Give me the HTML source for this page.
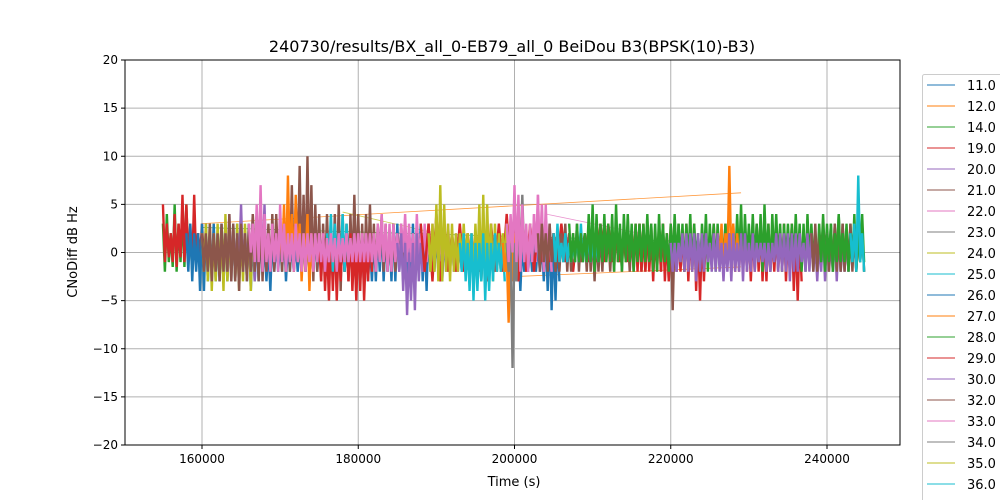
<!DOCTYPE html>
<html><head><meta charset="utf-8"><style>
body{margin:0;background:#fff;font-family:"DejaVu Sans","Liberation Sans",sans-serif}
svg{display:block}
</style></head><body>
<svg id="chart" width="1000" height="500">
<text x="512" y="52" text-anchor="middle" font-size="16">240730/results/BX_all_0-EB79_all_0 BeiDou B3(BPSK(10)-B3)</text>
<g id="grid"></g><g id="series"></g>
<rect x="125" y="60" width="775" height="385" fill="none" stroke="#000" stroke-width="1"/>
<g id="axes"></g>
<text x="514" y="486" text-anchor="middle" font-size="13">Time (s)</text>
<text transform="translate(77,252) rotate(-90)" text-anchor="middle" font-size="13">CNoDiff dB Hz</text>
<g id="legend"></g>
</svg>
<script>
const xTicks=[160000,180000,200000,220000,240000];
const yTicks=[-20,-15,-10,-5,0,5,10,15,20];
const legendLabels=["11.0","12.0","14.0","19.0","20.0","21.0","22.0","23.0","24.0","25.0","26.0","27.0","28.0","29.0","30.0","32.0","33.0","34.0","35.0","36.0","37.0"];
const palette=["#1f77b4","#ff7f0e","#2ca02c","#d62728","#9467bd","#8c564b","#e377c2","#7f7f7f","#bcbd22","#17becf"];
const gapLines=[
 {c:1,t:[160000,229000],v:[3,6.2]},
 {c:2,t:[160000,220000],v:[2.6,1.2]},
 {c:8,t:[178000,190000],v:[4.2,2.0]},
 {c:6,t:[204000,216000],v:[4,2]},
 {c:1,t:[200000,229000],v:[-2.5,-1.5]}
];
// noisy traces: start time, step (s), alternating low / high extremes per step
const segs=[
 {c:2,t0:155000,step:500,lo:[-2,-1,-1.5,-2,-1,-1.5,-1,-2,-1,-1.5],hi:[3,4,2,5,3,4,5,2,3,2]},
 {c:3,t0:155000,step:500,lo:[-1,-0.5,-1,-1.5,-0.5,-1,-1,-1.5,-1,-0.5,-1],hi:[5,3,2,4,3,6,5,3,6,2,3]},
 {c:0,t0:158000,step:500,lo:[-2,-3,-2,-4,-4,-3,-2,-3,-3,-2,-3,-2,-3,-3,-2,-3,-4,-3,-3,-2,-3,-4,-2,-2,-2,-3,-2,-2,-2,-2,-2,-2,-2,-2,-2,-3,-2,-2,-2,-2,-2,-2,-3,-2,-3,-4,-3,-3,-3,-2,-3,-2,-3,-3,-2,-3,-4,-3,-3,-2,-3,-4,-2,-2,-2,-3,-2,-2,-2,-2,-2,-2,-2,-2,-2,-3,-2,-2,-2,-2,-2,-2,-3,-2,-3,-4,-2,-2,-2,-2,-2,-3,-4,-6,-5,-3],hi:[2,3,2,2,3,3,2,3,2,3,2,3,2,3,2,2,3,2,2,2,1,1,2,1,1,2,1,1,1,1,1,1,1,2,1,2,1,1,1,1,1,1,1,2,3,2,2,1,2,2,3,2,2,3,3,2,3,2,3,2,3,2,3,2,2,3,2,2,2,1,1,2,1,1,2,1,1,1,1,1,1,1,2,1,2,1,1,1,1,1,1,1,2,3,2,2]},
 {c:8,t0:160000,step:500,lo:[-2,-3,-4,-3,-2,-4,-3,-2,-3,-4,-3,-2,-4,-3],hi:[2,3,3,2,3,2,4,2,3,3,2,3,2,4]},
 {c:4,t0:163000,step:500,lo:[-2,-3,-2,-1,-2,-1,-2,-3,-2,-1,-2,-1],hi:[2,4,3,2,5,2,2,4,3,2,5,2]},
 {c:5,t0:160000,step:500,lo:[-2,-2,-3,-2,-3,-2,-2,-3,-3,-4,-2,-3,-2,-2,-3,-3,-2,-2,-2,-1,-2,-2,-2,-2,-1,-2,-2,-2,-3,-2,-3,-2,-2,-3,-3,-4,-2,-3,-2,-2,-3,-3,-2,-2,-2,-1,-2,-2,-2,-2,-1,-2],hi:[2,2,3,2,2,3,2,4,3,2,3,2,3,4,3,4,3,3,4,4,3,4,5,7,5,9,6,10,7,5,4,3,4,3,4,5,4,3,4,6,4,3,4,5,3,3,4,3,2,3,2,3]},
 {c:3,t0:175000,step:500,lo:[-3,-4,-5,-4,-5,-3,-2,-3,-4,-5,-4,-5,-3,-2],hi:[1,2,1,2,2,1,2,1,2,1,2,2,1,2]},
 {c:9,t0:176000,step:500,lo:[-1,-2,-1,-1,-2,-1],hi:[2,4,3,2,4,3]},
 {c:1,t0:170000,step:500,lo:[-1,-2,-1,-2,-1,-3,-1,-4,-2],hi:[3,5,8,4,6,3,2,4,2]},
 {c:6,t0:166000,step:500,lo:[0,-1,-1,-2,-1,-2,-1,-2,-1,-2,-1,-2,-1,-2,-2,-1,-2,-1,-1,-2,-1,-1,-2,-1,-1,-1,-1,-1,-1,-1,-1,-1,-2,-1,-1,-2,-2,-1,-2,0,-1,-1,-2,-1,-2,-1,-2,-1,-2,-1,-2,-1,-2,-2,-1,-2,-1,-1,-2,-1,-1,-2,-1,-1,-1,-1,-1,-1,-1,-1,-1,-2,-1,-1,-2,-2,-1,-2],hi:[3,3,5,7,4,2,3,2,5,3,2,2,3,2,2,2,2,2,2,2,1.5,2,1.5,2,1.5,2,1.5,2,2,2,2,2,2,3,4,3,3,3,2,3,4,3,2,4,2,3,2,3,3,2,2,3,2,2,2,2,2,2,2,1.5,2,1.5,2,1.5,2,1.5,2,2,2,2,2,2,3,4,6,5,3,2]},
 {c:4,t0:185000,step:500,lo:[-2,-4,-6.5,-5,-6,-3,-2],hi:[1,2,1,0,1,2,1]},
 {c:3,t0:188000,step:1000,lo:[-2,-3,-3,-2,-2,-2,-2,-2,-3,-2,-2,-2,-3,-2,-2,-1,-1,-1,-1,-2,-1,-1,-1,-1,-1,-1,-1],hi:[3,3,4,3,2,3,2,2,3,3,3,4,4,4,3,3,2,2,3,2,2,2,2,3,3,2,2]},
 {c:8,t0:189000,step:500,lo:[-2,-2,-3,-3,-2,-3,-2,-2,-1,-1,-1,-2,-2,-3,-3,-2,-3,-2,-2,-1,-1,-1],hi:[2,3,5,7,5,3,3,2,2,3,2,2,3,5,6,5,3,3,2,2,3,2]},
 {c:9,t0:193000,step:500,lo:[-2,-3,-4,-5,-4,-3,-5,-4,-3,-2,-2,-3],hi:[1,2,1,2,1,1,2,1,1,2,1,1]},
 {c:1,t0:198500,step:500,lo:[-2,-7.3,-3,-2],hi:[1,0,1,2]},
 {c:7,t0:199000,step:500,lo:[-2,-12,-3,-1,-1],hi:[1,1,1,5,6]},
 {c:6,t0:199000,step:500,lo:[-1,0,-1,-2,-1,-2,-1,0,-1,-2,-1,-2],hi:[3,4,7,6,5,3,3,4,6,5,5,3]},
 {c:5,t0:203000,step:500,lo:[-2,-1,-2,-1,-2,-2,-1,-2,-2,-1,-2,-1,-2,-2,-3,-2,-2,-1,-2,-2,-1,-2,-1,-2,-2,-1,-2,-2,-1,-2,-1,-2,-2,-3,-6,-2,-1,-2],hi:[2,3,2,3,2,2,2,3,2,2,3,2,2,3,2,2,2,3,2,2,3,2,3,2,2,2,3,2,2,3,2,2,3,2,2,2,3,2]},
 {c:9,t0:205000,step:500,lo:[-1,-1,-1,-1,-1,-1,-1,-1,-1,-1,-1,-1],hi:[2,3,1,2,1,1,2,3,1,2,1,1]},
 {c:3,t0:212000,step:500,lo:[-1,-1,-1,-1,-1,-1,-1,-2,-2,-2,-2,-3,-2,-2,-3,-3,-2,-2,-2,-2,-3,-2,-4,-5,-3,-1,-1,-1,-1,-1,-1,-1,-2,-2,-2,-2,-3,-2,-2,-3,-3,-2,-2,-2,-2,-3,-2,-4,-5,-3],hi:[2,2,3,2,2,3,2,3,3,3,3,2,2,3,3,2,3,2,2,2,3,2,3,2,2,2,2,3,2,2,3,2,3,3,3,3,2,2,3,3,2,3,2,2,2,3,2,3,2,2]},
 {c:2,t0:207000,step:500,lo:[-1,-1,-1,-1,-1,-1,-2,-1,-1,-1,-1,-2,-1,-2,-1,-1,-2,-1,-1,-1,-1,-2,-2,-1,-1,-2,-1,-1,-1,-2,-1,-2,-1,-2,-1,-2,-1,-2,-1,-1,-1,-1,-1,-1,-2,-1,-1,-1,-1,-2,-1,-2,-1,-1,-2,-1,-1,-1,-1,-2,-2,-1,-1,-2,-1,-1,-1,-2,-1,-2,-1,-2,-1,-2,-1,-2],hi:[3,2,3,2,2,4,5,4,3,4,3,4,5,3,4,4,3,3,3,3,4,3,3,4,3,2,3,4,3,3,3,4,3,2,3,4,3,3,3,2,3,2,2,4,5,4,3,4,3,4,5,3,4,4,3,3,3,3,4,3,3,4,3,2,3,4,3,3,3,4,3,2,3,4,3,3]},
 {c:1,t0:226000,step:500,lo:[-1,-2,-1,-1,-2,-1,-1],hi:[2,3,2,9,3,2,1]},
 {c:4,t0:220000,step:500,lo:[-2,-2,-1,-2,-2,-2,-3,-2,-2,-1,-2,-2,-2,-3,-2,-3,-2,-2,-3,-2,-2,-2,-1,-1,-2,-2,-1,-2,-2,-2,-3,-2,-2,-1,-2,-2,-2,-3,-2,-3,-2,-2,-3,-2,-2,-2,-1,-1],hi:[1,1,1,2,2,2,2,2,2,2,1,2,2,1,1,2,2,1,2,2,1,2,1,1,1,1,1,2,2,2,2,2,2,2,1,2,2,1,1,2,2,1,2,2,1,2,1,1]},
 {c:5,t0:238000,step:500,lo:[-2,-2,-1,-2,-2,-1,-2,-2,-2,-1,-2,-2,-1,-2],hi:[2,3,2,3,2,2,3,2,3,2,3,2,2,3]},
 {c:2,t0:239000,step:500,lo:[-1,-2,-1,-2,-1,-1,-1,-2,-1,-2,-1,-1],hi:[2,3,2,3,2,4,2,3,2,3,2,4]},
 {c:9,t0:243000,step:500,lo:[-1,-2,-1,-2],hi:[2,3,8,2]}
];
const X0=150144,X1=249344,px0=125,px1=900,Y0=-20,Y1=20,py0=445,py1=60;
const sx=t=>px0+(t-X0)/(X1-X0)*(px1-px0);
const sy=v=>py0+(v-Y0)/(Y1-Y0)*(py1-py0);
const NS="http://www.w3.org/2000/svg";
function mk(tag,attrs,parent){const e=document.createElementNS(NS,tag);for(const k in attrs)e.setAttribute(k,attrs[k]);parent.appendChild(e);return e;}
const grid=document.getElementById('grid'),axes=document.getElementById('axes'),ser=document.getElementById('series'),leg=document.getElementById('legend');
xTicks.forEach(t=>{const x=sx(t);
 const g=mk('line',{x1:x,x2:x,y1:py1,y2:py0,stroke:'#b0b0b0','stroke-width':1},grid);
 
 
 mk('line',{x1:x,x2:x,y1:py0,y2:py0+4,stroke:'#000'},axes);
 const l=mk('text',{x:x,y:py0+18,'text-anchor':'middle','font-size':12},axes);l.textContent=t;
 
 });
yTicks.forEach(v=>{const y=sy(v);
 const g=mk('line',{x1:px0,x2:px1,y1:y,y2:y,stroke:'#b0b0b0','stroke-width':1},grid);
 
 
 mk('line',{x1:px0-4,x2:px0,y1:y,y2:y,stroke:'#000'},axes);
 const l=mk('text',{x:px0-7,y:y+4,'text-anchor':'end','font-size':12},axes);l.textContent=v<0?'\u2212'+(-v):v;
 
 });
gapLines.forEach(g=>{const p=mk('polyline',{points:g.t.map((t,i)=>sx(t)+','+sy(g.v[i])).join(' '),fill:'none',stroke:palette[g.c],'stroke-width':0.8,opacity:0.8},ser);
 
 });
segs.forEach(s=>{const pts=[];
 s.hi.forEach((v,i)=>{const t=s.t0+i*s.step;pts.push(sx(t)+','+sy(v));pts.push(sx(t+s.step/2)+','+sy(s.lo[i]));});
 const p=mk('polyline',{points:pts.join(' '),fill:'none',stroke:palette[s.c],'stroke-width':2.4,'stroke-linejoin':'bevel'},ser);
 
 });
const box=mk('rect',{x:922.5,y:74.5,width:90,height:440,fill:'#fff',stroke:'#ccc',rx:2},leg);


legendLabels.forEach((lab,i)=>{const y=85+i*21;
 const g=mk('g',{},leg);
 
 
 mk('line',{x1:927,x2:955,y1:y,y2:y,stroke:palette[i%10],'stroke-width':1},g);
 const t=mk('text',{x:967,y:y+5,'font-size':13},g);t.textContent=lab;});
</script>
</body></html>
